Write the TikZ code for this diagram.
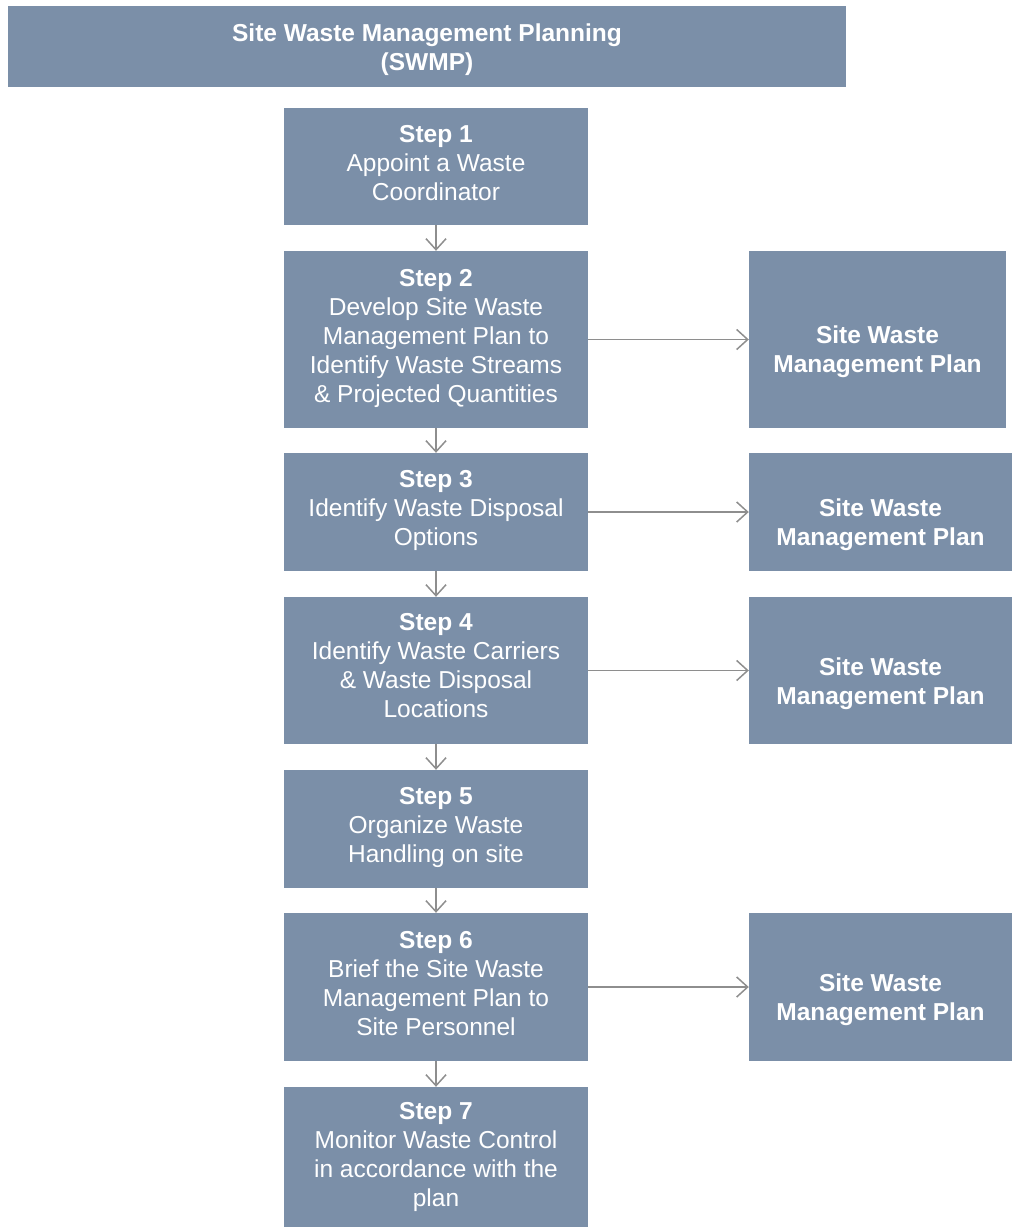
\documentclass[tikz,border=0pt]{standalone}
\usepackage{fontspec}
\setmainfont{Liberation Sans}
\usetikzlibrary{arrows.meta}
\definecolor{boxfill}{HTML}{7B8FA8}
\definecolor{arrowgray}{HTML}{8E8E8E}
\begin{document}
\begin{tikzpicture}[x=1pt,y=-1pt,
  box/.style={rectangle, fill=boxfill, draw=none, inner sep=0pt},
  stepbox/.style={box, minimum width=304pt},
  planbox/.style={box, minimum width=263pt},
  txt/.style={text=white, align=center, font=\fontsize{24.5}{29}\selectfont, inner sep=0pt},
  plantxt/.style={txt, font=\fontsize{24.5}{29}\selectfont\bfseries},
  conn/.style={draw=arrowgray, line width=1.5pt, -{Straight Barb[length=11pt,width=20pt,line width=1.5pt]}}]
\useasboundingbox (0,0) rectangle (1012,1227);
\clip (0,0) rectangle (1012,1227);
\node[box, minimum width=838pt, minimum height=81pt,
  label={[plantxt, yshift=-3pt]center:{Site Waste Management Planning\\(SWMP)}}] (title) at (427,46.5) {};
\node[stepbox, minimum height=117pt,
  label={[txt, yshift=3pt]center:{\textbf{Step 1}\\Appoint a Waste\\Coordinator}}] (s1) at (436,166.5) {};
\node[stepbox, minimum height=177pt,
  label={[txt, yshift=1.5pt]center:{\textbf{Step 2}\\Develop Site Waste\\Management Plan to\\Identify Waste Streams\\\& Projected Quantities}}] (s2) at (436,339.5) {};
\node[stepbox, minimum height=118pt,
  label={[txt, yshift=2pt]center:{\textbf{Step 3}\\Identify Waste Disposal\\Options}}] (s3) at (436,512) {};
\node[stepbox, minimum height=147pt,
  label={[txt, yshift=5pt]center:{\textbf{Step 4}\\Identify Waste Carriers\\\& Waste Disposal\\Locations}}] (s4) at (436,670.5) {};
\node[stepbox, minimum height=118pt,
  label={[txt, yshift=2pt]center:{\textbf{Step 5}\\Organize Waste\\Handling on site}}] (s5) at (436,829) {};
\node[stepbox, minimum height=148pt,
  label={[txt, yshift=3.5pt]center:{\textbf{Step 6}\\Brief the Site Waste\\Management Plan to\\Site Personnel}}] (s6) at (436,987) {};
\node[stepbox, minimum height=140pt,
  label={[txt]center:{\textbf{Step 7}\\Monitor Waste Control\\in accordance with the\\plan}}] (s7) at (436,1157) {};
\node[planbox, minimum width=257pt, minimum height=177pt,
  label={[plantxt, yshift=-12.5pt]center:{Site Waste\\Management Plan}}] (p2) at (877.5,339.5) {};
\node[planbox, minimum height=118pt,
  label={[plantxt, yshift=-13pt]center:{Site Waste\\Management Plan}}] (p3) at (880.5,512) {};
\node[planbox, minimum height=147pt,
  label={[plantxt, yshift=-13pt]center:{Site Waste\\Management Plan}}] (p4) at (880.5,670.5) {};
\node[planbox, minimum height=148pt,
  label={[plantxt, yshift=-13pt]center:{Site Waste\\Management Plan}}] (p6) at (880.5,987) {};
\draw[conn] (s1) -- (s2);
\draw[conn] (s2) -- (s3);
\draw[conn] (s3) -- (s4);
\draw[conn] (s4) -- (s5);
\draw[conn] (s5) -- (s6);
\draw[conn] (s6) -- (s7);
\draw[conn] (s2) -- (p2);
\draw[conn] (s3) -- (p3);
\draw[conn] (s4) -- (p4);
\draw[conn] (s6) -- (p6);
\end{tikzpicture}
\end{document}
